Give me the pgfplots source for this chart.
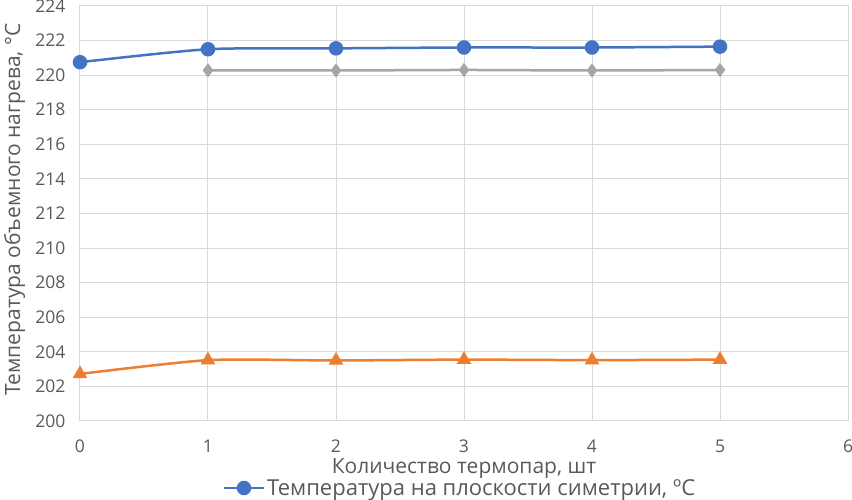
\documentclass[border=0pt]{standalone}
\usepackage{pgfplots}
\pgfplotsset{compat=1.18}
\usepackage{fontspec}
\setmainfont{Open Sans}
\definecolor{xblue}{HTML}{4472C4}
\definecolor{xorange}{HTML}{ED7D31}
\definecolor{xgray}{HTML}{A5A5A5}
\definecolor{gridc}{HTML}{D9D9D9}
\definecolor{tickc}{HTML}{595959}
\begin{document}
\begin{tikzpicture}
\begin{axis}[
  at={(0pt,0pt)}, anchor=south west,
  scale only axis, width=768pt, height=415pt,
  xmin=0, xmax=6, ymin=200, ymax=224,
  xtick={0,1,2,3,4,5,6}, ytick={200,202,...,224},
  grid=major, major grid style={gridc, line width=1pt},
  axis line style={gridc, line width=1pt},
  tick style={draw=none},
  /pgf/number format/assume math mode=true,
  ticklabel style={font=\fontsize{17.5}{20}\selectfont, text=tickc},
  xticklabel style={yshift=-15pt},
  yticklabel style={xshift=-11pt},
  xlabel={Количество термопар, шт},
  ylabel={Температура объемного нагрева, °С},
  label style={font=\fontsize{21}{24}\selectfont, text=tickc},
  xlabel style={at={(axis description cs:0.5,0)}, anchor=center, yshift=-48pt},
  ylabel style={at={(axis description cs:-0.085,0.51)}, anchor=center},
  legend style={at={(380pt,-67pt)}, anchor=center, draw=none, fill=none,
    font=\fontsize{22}{25}\selectfont, text=tickc, inner sep=0pt},
  legend cell align=left,
  legend image code/.code={\draw[#1] (0cm,0cm) -- (1.4cm,0cm); \draw[#1, mark repeat=1] plot coordinates {(0.7cm,0cm)};},
  clip=false,
]
\addplot[xblue, line width=2.5pt, smooth, tension=0.4, mark=*, mark size=6pt, mark options={solid}]
  coordinates {(0,220.75) (1,221.5) (2,221.55) (3,221.6) (4,221.6) (5,221.65)};
\addlegendentry{Температура на плоскости симетрии, ºC}
\addplot[xgray, line width=2.5pt, smooth, tension=0.4, mark=diamond*, mark size=5pt, forget plot]
  coordinates {(1,220.28) (2,220.27) (3,220.3) (4,220.27) (5,220.3)};
\addplot[xorange, line width=2.5pt, smooth, tension=0.4, mark=triangle*, mark size=6pt, forget plot]
  coordinates {(0,202.72) (1,203.52) (2,203.5) (3,203.55) (4,203.52) (5,203.55)};
\end{axis}
\pgfresetboundingbox
\path (-80pt,-79pt) rectangle (772pt,421pt);
\end{tikzpicture}
\end{document}
